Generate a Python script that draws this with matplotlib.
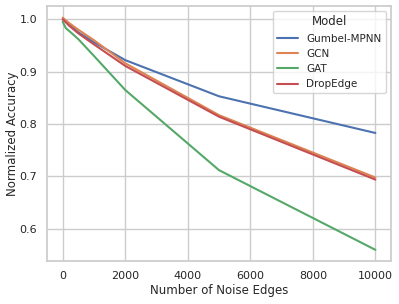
import matplotlib

matplotlib.use("Agg")

import matplotlib.pyplot as plt  # noqa: E402
import seaborn as sns  # noqa: E402

# Data
noise_edges = [0, 100, 200, 500, 1000, 2000, 5000, 10000]
gumbel_mpnn = [1.000, 0.995, 0.990, 0.975, 0.956, 0.922, 0.853, 0.783]
gcn = [1.003, 0.998, 0.993, 0.980, 0.960, 0.916, 0.817, 0.698]
gat = [0.995, 0.983, 0.978, 0.962, 0.930, 0.865, 0.712, 0.560]
dropedge = [1.000, 0.994, 0.988, 0.973, 0.952, 0.911, 0.814, 0.694]

series = {
    "Gumbel-MPNN": gumbel_mpnn,
    "GCN": gcn,
    "GAT": gat,
    "DropEdge": dropedge,
}

sns.set_theme(style="whitegrid", palette="deep")
plt.rcParams["font.family"] = ["DejaVu Sans"]

fig, ax = plt.subplots(figsize=(3.99, 3.04), dpi=100)
palette = sns.color_palette("deep")
for (name, values), color in zip(series.items(), palette):
    ax.plot(noise_edges, values, label=name, color=color, linewidth=1.5)

ax.set_xlabel("Number of Noise Edges", fontsize=8.5, labelpad=2)
ax.set_ylabel("Normalized Accuracy", fontsize=8.5, labelpad=0.5)
ax.tick_params(labelsize=8, pad=1)
ax.legend(title="Model", fontsize=7.5, title_fontsize=8.5, loc="upper right")

fig.subplots_adjust(left=0.118, right=0.98, top=0.98, bottom=0.14)
fig.savefig("out.png", dpi=100)
